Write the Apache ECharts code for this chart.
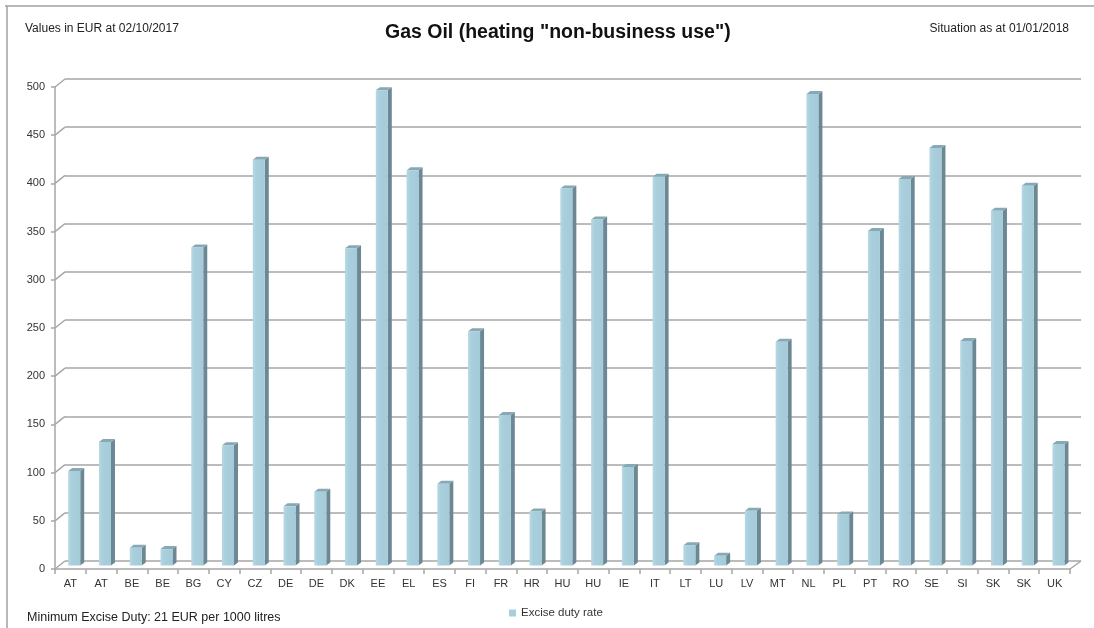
<!DOCTYPE html>
<html lang="en">
<head>
<meta charset="UTF-8">
<title>Gas Oil (heating "non-business use")</title>
<script src="https://cdn.jsdelivr.net/npm/echarts@6/dist/echarts.min.js"></script>
<style>
    body { margin: 0; padding: 0; background: #fff; }
    #chart { width: 1094px; height: 628px; }
</style>
</head>
<body>
<div id="chart"></div>
<script>
    // data (EUR per 1000 litres)
    const countries = ['AT', 'AT', 'BE', 'BE', 'BG', 'CY', 'CZ', 'DE', 'DE', 'DK', 'EE', 'EL', 'ES', 'FI', 'FR', 'HR', 'HU', 'HU', 'IE', 'IT', 'LT', 'LU', 'LV', 'MT', 'NL', 'PL', 'PT', 'RO', 'SE', 'SI', 'SK', 'SK', 'UK'];
    const dutyRate = [98, 128, 18.5, 17, 330, 124.7, 421, 61.4, 76.4, 329, 493, 410, 84.7, 243, 156.2, 56, 391, 359, 102.3, 403.2, 21.1, 10, 56.9, 232, 489, 53, 347, 401, 433, 233, 368, 394, 126];
    const yTicks = [0, 50, 100, 150, 200, 250, 300, 350, 400, 450, 500];

    const FONT = 'Liberation Sans, Arial, sans-serif';
    const WALL_DX = 10, WALL_DY = 8;   // depth of the fake 3d box
    const GRID_COLOR = '#a6a6a6';

    const chart = echarts.init(document.getElementById('chart'));

    // one bar with front face, side and top cap
    function renderBar(params, api) {
        const i = api.value(0);
        const v = api.value(1);
        const top = api.coord([i, v]);
        const base = api.coord([i, 0]);
        const band = api.size([1, 0])[0];
        const w = band * 0.39, d = 4, h = 3;
        const x0 = top[0] - band * 0.07;
        const x1 = x0 + w;
        const yTop = top[1] - WALL_DY / 2 + 0.5;
        const yBase = base[1] - WALL_DY / 2 + 0.5;
        return {
            type: 'group',
            children: [
                {
                    type: 'polygon',
                    shape: { points: [[x1, yTop], [x1 + d, yTop - h], [x1 + d, yBase - h], [x1, yBase]] },
                    style: { fill: '#6c8894' }
                },
                {
                    type: 'polygon',
                    shape: { points: [[x0, yTop], [x0 + d, yTop - h], [x1 + d, yTop - h], [x1, yTop]] },
                    style: { fill: '#86a9b5' }
                },
                {
                    type: 'rect',
                    shape: { x: x0, y: yTop, width: w, height: yBase - yTop },
                    style: {
                        fill: new echarts.graphic.LinearGradient(0, 0, 1, 0, [
                            { offset: 0, color: '#b6d8e4' },
                            { offset: 0.3, color: '#a9cfdc' },
                            { offset: 1, color: '#a5cbd8' }
                        ])
                    }
                }
            ]
        };
    }

    // short diagonals joining the front axis to the back wall
    function renderDiagonal(params, api) {
        const v = api.value(1);
        const p = api.coord([0, v]);
        const band = api.size([1, 0])[0];
        const left = p[0] - band / 2;
        const children = [{
            type: 'line',
            shape: { x1: left, y1: p[1], x2: left + WALL_DX, y2: p[1] - WALL_DY },
            style: { stroke: GRID_COLOR, lineWidth: 1.5 }
        }];
        if (v === 0) {
            const right = left + band * countries.length;
            children.push({
                type: 'line',
                shape: { x1: right, y1: p[1], x2: right + WALL_DX + 1, y2: p[1] - WALL_DY },
                style: { stroke: GRID_COLOR, lineWidth: 1.5 }
            });
        }
        return { type: 'group', children: children };
    }

    const option = {
        animation: false,
        backgroundColor: '#fff',
        title: [
            {
                text: 'Gas Oil (heating "non-business use")',
                left: 380,
                top: 18,
                textStyle: { fontFamily: FONT, fontSize: 19.5, fontWeight: 'bold', color: '#111' }
            },
            {
                text: 'Values in EUR at 02/10/2017',
                left: 20,
                top: 18,
                textStyle: { fontFamily: FONT, fontSize: 12, fontWeight: 'normal', color: '#222' }
            },
            {
                text: 'Situation as at 01/01/2018',
                right: 20,
                top: 18,
                textStyle: { fontFamily: FONT, fontSize: 12, fontWeight: 'normal', color: '#222' }
            },
            {
                text: 'Minimum Excise Duty: 21 EUR per 1000 litres',
                left: 22,
                top: 606,
                textStyle: { fontFamily: FONT, fontSize: 12.5, fontWeight: 'normal', color: '#222' }
            }
        ],
        legend: {
            left: 504,
            top: 602,
            itemWidth: 7,
            itemHeight: 7,
            itemGap: 3,
            textStyle: { fontFamily: FONT, fontSize: 11.5, color: '#333' },
            data: [{ name: 'Excise duty rate', icon: 'rect' }]
        },
        graphic: [
            { type: 'line', shape: { x1: 5, y1: 6, x2: 1094, y2: 6 }, style: { stroke: '#a0a0a0', lineWidth: 1.5 } },
            { type: 'line', shape: { x1: 7, y1: 6, x2: 7, y2: 628 }, style: { stroke: '#a0a0a0', lineWidth: 1.5 } }
        ],
        grid: [
            { left: 55, top: 87, width: 1015, height: 482 },
            { left: 55 + WALL_DX, top: 87 - WALL_DY, width: 1016, height: 482 }
        ],
        xAxis: [
            {
                type: 'category',
                gridIndex: 0,
                data: countries,
                axisLine: { lineStyle: { color: GRID_COLOR, width: 1.5 } },
                axisTick: { show: true, length: 5, lineStyle: { color: GRID_COLOR, width: 1.5 } },
                axisLabel: { interval: 0, margin: 9, fontFamily: FONT, fontSize: 11, color: '#333' }
            },
            { type: 'category', gridIndex: 1, data: countries, show: false }
        ],
        yAxis: [
            {
                type: 'value',
                gridIndex: 0,
                min: 0,
                max: 500,
                interval: 50,
                axisLine: { show: true, lineStyle: { color: GRID_COLOR, width: 1.5 } },
                axisTick: { show: true, length: 4, lineStyle: { color: GRID_COLOR, width: 1.5 } },
                axisLabel: { margin: 10, fontFamily: FONT, fontSize: 11, color: '#333' },
                splitLine: { show: false }
            },
            {
                type: 'value',
                gridIndex: 1,
                min: 0,
                max: 500,
                interval: 50,
                axisLine: { show: false },
                axisTick: { show: false },
                axisLabel: { show: false },
                splitLine: { show: true, lineStyle: { color: GRID_COLOR, width: 1.5 } }
            }
        ],
        series: [
            {
                type: 'custom',
                name: 'walls',
                xAxisIndex: 0,
                yAxisIndex: 0,
                renderItem: renderDiagonal,
                data: yTicks.map(t => [0, t]),
                encode: { x: 0, y: 1 },
                silent: true,
                z: 1
            },
            {
                type: 'custom',
                name: 'Excise duty rate',
                xAxisIndex: 0,
                yAxisIndex: 0,
                renderItem: renderBar,
                itemStyle: { color: '#a9cfdc' },
                data: dutyRate.map((v, i) => [i, v]),
                encode: { x: 0, y: 1 },
                z: 3
            }
        ]
    };

    chart.setOption(option);
</script>
</body>
</html>
